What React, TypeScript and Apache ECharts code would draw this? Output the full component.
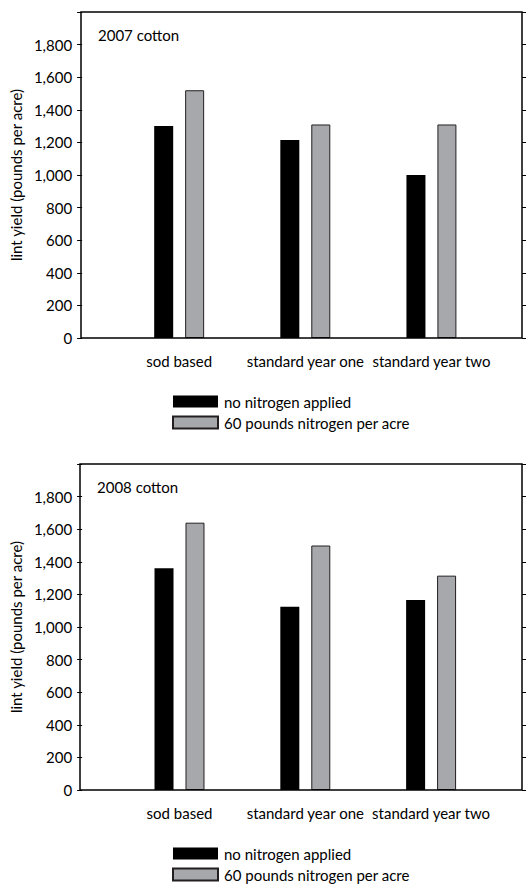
import React, { useEffect, useRef } from "react";
import * as echarts from "echarts";

const categories = ["sod based", "standard year one", "standard year two"];
const seriesNames = ["no nitrogen applied", "60 pounds nitrogen per acre"];
const noNitrogen2007 = [1300, 1215, 1000];
const nitrogen60_2007 = [1520, 1310, 1310];
const noNitrogen2008 = [1360, 1125, 1165];
const nitrogen60_2008 = [1640, 1500, 1315];
const panelTitles = ["2007 cotton", "2008 cotton"];
const yMin = 0;
const yMax = 2000;
const yInterval = 200;

const FONT = "Lato";
const BLACK = "#000000";
const GRAY = "#a7a8ab";
const EDGE = "#231f20";

export default function App() {
  const ref = useRef<HTMLDivElement>(null);
  useEffect(() => {
    if (!ref.current) return;
    const chart = echarts.init(ref.current, undefined, { renderer: "svg" });

    const panels = [
      { top: 12, boxLeft: 81, gridLeft: 115, titleLeft: 98, legendTop: 394, data: [noNitrogen2007, nitrogen60_2007] },
      { top: 464, boxLeft: 80, gridLeft: 114.5, titleLeft: 97, legendTop: 846, data: [noNitrogen2008, nitrogen60_2008] },
    ];
    const boxRight = 522;
    const boxH = 326;
    const gridW = 379.5;

    const grids: any[] = [];
    const xAxes: any[] = [];
    const yAxes: any[] = [];
    const series: any[] = [];
    const titles: any[] = [];
    const legends: any[] = [];
    const graphics: any[] = [];

    panels.forEach((p, i) => {
      grids.push({ left: p.gridLeft, top: p.top, width: gridW, height: boxH, containLabel: false });
      xAxes.push({
        type: "category",
        gridIndex: i,
        data: categories,
        axisLine: { show: false },
        axisTick: { show: false },
        axisLabel: { interval: 0, hideOverlap: false, margin: 15, fontFamily: FONT, fontSize: 15, color: BLACK },
      });
      const common = {
        type: "value",
        gridIndex: i,
        min: yMin,
        max: yMax,
        interval: yInterval,
        splitLine: { show: false },
        axisLine: { show: false },
      };
      yAxes.push({
        ...common,
        position: "left",
        offset: p.gridLeft - p.boxLeft,
        axisTick: { show: true, inside: false, length: 5, lineStyle: { color: BLACK, width: 1 } },
        axisLabel: {
          margin: 10,
          fontFamily: FONT,
          fontSize: 15,
          color: BLACK,
          formatter: (v: number) => (v >= yMax ? "" : v.toLocaleString("en-US")),
        },
        name: "lint yield (pounds per acre)",
        nameLocation: "middle",
        nameGap: 53,
        nameTextStyle: { fontFamily: FONT, fontSize: 15, color: BLACK },
      });
      yAxes.push({
        ...common,
        position: "right",
        offset: boxRight - (p.gridLeft + gridW),
        axisTick: { show: true, inside: false, length: 4, lineStyle: { color: BLACK, width: 1 } },
        axisLabel: { show: false },
      });
      p.data.forEach((vals, s) => {
        series.push({
          type: "bar",
          name: seriesNames[s],
          xAxisIndex: i,
          yAxisIndex: i * 2,
          data: vals,
          barWidth: 19,
          barGap: "63%",
          itemStyle:
            s === 0
              ? { color: BLACK }
              : { color: GRAY, borderColor: EDGE, borderWidth: 1 },
        });
      });
      titles.push({
        text: panelTitles[i],
        left: p.titleLeft,
        top: p.top + 15,
        padding: 0,
        textStyle: { fontFamily: FONT, fontSize: 15, fontWeight: "normal", color: BLACK },
      });
      legends.push({
        orient: "vertical",
        left: 172,
        top: p.legendTop,
        padding: 0,
        itemWidth: 45,
        itemHeight: 12,
        itemGap: 6,
        icon: "rect",
        data: seriesNames,
        selectedMode: false,
        textStyle: { fontFamily: FONT, fontSize: 15, color: BLACK, padding: [0, 0, 0, 1] },
      });
      graphics.push({
        type: "rect",
        z: 100,
        shape: { x: p.boxLeft, y: p.top, width: boxRight - p.boxLeft, height: boxH },
        style: { fill: "none", stroke: BLACK, lineWidth: 1.5 },
      });
    });

    chart.setOption({
      animation: false,
      backgroundColor: "#ffffff",
      title: titles,
      legend: legends,
      grid: grids,
      xAxis: xAxes,
      yAxis: yAxes,
      series,
      graphic: graphics,
    });
    return () => chart.dispose();
  }, []);
  return (
    <div
      ref={ref}
      style={{ position: "absolute", left: 0, top: 0, width: 527, height: 884 }}
    />
  );
}
